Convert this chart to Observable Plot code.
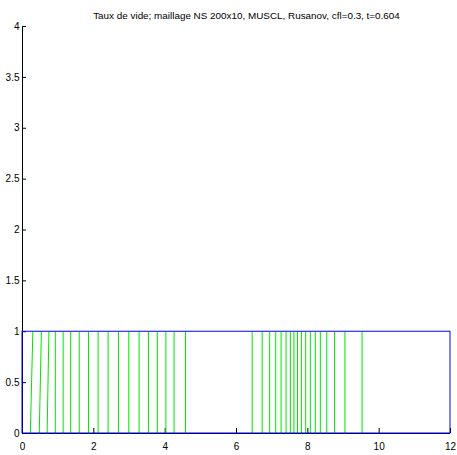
<!DOCTYPE html>
<html><head><meta charset="utf-8">
<script src="https://cdn.jsdelivr.net/npm/d3@7"></script>
<script src="https://cdn.jsdelivr.net/npm/@observablehq/plot@0.6"></script>
<style>body{margin:0;background:#fff;}</style>
</head><body><div id="chart"></div>
<script>
const title = "Taux de vide; maillage NS 200x10, MUSCL, Rusanov, cfl=0.3, t=0.604";
// contour lines: x position at bottom (y=0) and at top (y=1)
const contourBottom = [0.22, 0.47, 0.69, 0.92, 1.14, 1.35, 1.59, 1.85, 2.12, 2.40, 2.69, 2.98, 3.27, 3.53, 3.78, 4.02, 4.25, 4.57,
  6.44, 6.72, 6.93, 7.10, 7.25, 7.39, 7.51, 7.61, 7.71, 7.82, 7.94, 8.07, 8.21, 8.35, 8.53, 8.75, 9.04, 9.52];
const contourTop = [0.29, 0.53, 0.74, 0.92, 1.14, 1.35, 1.59, 1.85, 2.12, 2.40, 2.69, 2.98, 3.27, 3.53, 3.78, 4.02, 4.25, 4.57,
  6.44, 6.72, 6.93, 7.10, 7.25, 7.39, 7.51, 7.61, 7.71, 7.82, 7.94, 8.07, 8.21, 8.35, 8.53, 8.75, 9.04, 9.52];
const xTicks = [0, 2, 4, 6, 8, 10, 12];
const yTicks = [0, 0.5, 1, 1.5, 2, 2.5, 3, 3.5, 4];
const boxX = [0, 12];
const boxY = [0, 1];

const contours = contourBottom.map((b, i) => ({b, t: contourTop[i]}));
const box = [{x1: boxX[0], x2: boxX[1], y1: boxY[0], y2: boxY[1]}];

const chart = Plot.plot({
  width: 457, height: 455,
  marginLeft: 22, marginRight: 7, marginTop: 26, marginBottom: 22,
  style: {fontFamily: "'Liberation Sans', Arial, sans-serif", fontSize: "10px", background: "#fff", color: "#000"},
  x: {domain: [0, 12]},
  y: {domain: [0, 4]},
  marks: [
    Plot.axisX(xTicks, {tickSize: -5, tickPadding: 14, fontSize: 10, label: null}),
    Plot.axisY(yTicks, {tickSize: -4, tickPadding: 7, fontSize: 10, label: null, tickFormat: d => String(d)}),
    Plot.ruleX([0], {stroke: "#000"}),
    Plot.ruleY([0], {stroke: "#000"}),
    Plot.link(contours, {x1: "b", y1: () => boxY[0], x2: "t", y2: () => boxY[1], stroke: "#00e600", strokeWidth: 1}),
    Plot.rect(box, {x1: "x1", x2: "x2", y1: "y1", y2: "y2", stroke: "#0000ff", fill: "none", strokeWidth: 1}),
    Plot.text([title], {frameAnchor: "top", dx: 10, dy: -14.5, fontSize: 9.9, fill: "#000"})
  ]
});
document.getElementById("chart").appendChild(chart);
</script>
</body></html>
